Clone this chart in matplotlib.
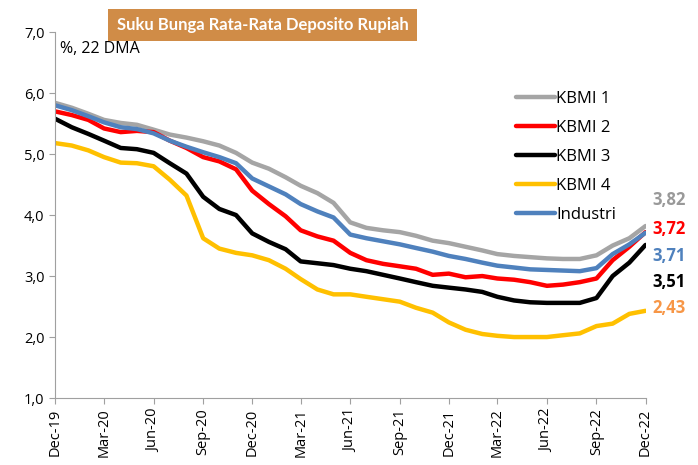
import numpy as np
import pandas as pd
import matplotlib
matplotlib.use("Agg")
import matplotlib.pyplot as plt
import matplotlib.dates as mdates

plt.rcParams['font.family'] = ['Open Sans', 'DejaVu Sans']

# monthly readings, Dec-19 .. Dec-22 (22-day moving average, %)
dates = pd.date_range('2019-12-01', periods=37, freq='MS')

kbmi1 = [5.84, 5.76, 5.66, 5.56, 5.51, 5.48, 5.40, 5.32, 5.27, 5.21, 5.14, 5.02,
         4.86, 4.76, 4.62, 4.48, 4.36, 4.20, 3.88, 3.79, 3.75, 3.72, 3.66, 3.58,
         3.54, 3.48, 3.42, 3.36, 3.33, 3.31, 3.29, 3.28, 3.28, 3.34, 3.50, 3.62, 3.82]
kbmi2 = [5.70, 5.64, 5.56, 5.42, 5.36, 5.38, 5.36, 5.22, 5.10, 4.95, 4.88, 4.75,
         4.40, 4.18, 3.98, 3.75, 3.65, 3.58, 3.38, 3.26, 3.20, 3.16, 3.12, 3.02,
         3.04, 2.98, 3.00, 2.96, 2.94, 2.90, 2.84, 2.86, 2.90, 2.96, 3.26, 3.48, 3.72]
kbmi3 = [5.58, 5.44, 5.33, 5.22, 5.10, 5.08, 5.02, 4.85, 4.68, 4.30, 4.10, 4.00,
         3.70, 3.56, 3.44, 3.24, 3.21, 3.18, 3.12, 3.08, 3.02, 2.96, 2.90, 2.84,
         2.81, 2.78, 2.74, 2.66, 2.60, 2.57, 2.56, 2.56, 2.56, 2.64, 3.00, 3.22, 3.51]
kbmi4 = [5.18, 5.14, 5.06, 4.95, 4.86, 4.85, 4.80, 4.58, 4.32, 3.62, 3.45, 3.38,
         3.34, 3.26, 3.12, 2.95, 2.78, 2.70, 2.70, 2.66, 2.62, 2.58, 2.48, 2.40,
         2.24, 2.12, 2.05, 2.02, 2.00, 2.00, 2.00, 2.03, 2.06, 2.18, 2.22, 2.38, 2.43]
industri = [5.80, 5.72, 5.62, 5.52, 5.44, 5.41, 5.34, 5.22, 5.12, 5.03, 4.95, 4.85,
            4.60, 4.47, 4.34, 4.18, 4.06, 3.96, 3.68, 3.62, 3.57, 3.52, 3.46, 3.40,
            3.33, 3.28, 3.22, 3.17, 3.14, 3.11, 3.10, 3.09, 3.08, 3.13, 3.36, 3.52, 3.71]

labels = ['KBMI 1', 'KBMI 2', 'KBMI 3', 'KBMI 4', 'Industri']
series = [kbmi1, kbmi2, kbmi3, kbmi4, industri]
colors = ['#A5A5A5', '#FF0000', '#000000', '#FFC000', '#4F81BD']
end_colors = ['#999999', '#FF0000', '#4F81BD', '#000000', '#F79646']
# end labels in the order they are stacked on the right
end_order = [0, 1, 4, 2, 3]
end_offsets = [19, 2, -17, -27, 2]

fig = plt.figure(figsize=(6.98, 4.65), dpi=100)
ax = fig.add_axes([0.0788, 0.144, 0.846, 0.787])

for s, lab, c in zip(series, labels, colors):
    ax.plot(dates, s, color=c, lw=3.2, label=lab, solid_capstyle='round')

for k, idx in enumerate(end_order):
    val = series[idx][-1]
    ax.annotate(f"{val:.2f}".replace('.', ','), xy=(dates[-1], val),
                xytext=(5, end_offsets[k]), textcoords='offset points',
                ha='left', va='center', fontsize=12, fontweight='bold',
                color=end_colors[k], annotation_clip=False)

ax.set_ylim(1, 7)
ax.set_yticks(np.arange(1, 8))
ax.yaxis.set_major_formatter(plt.FuncFormatter(lambda v, p: f"{v:.1f}".replace('.', ',')))
ax.set_xlim(dates[0], dates[-1])
ax.xaxis.set_major_locator(mdates.MonthLocator(bymonth=[3, 6, 9, 12]))
ax.xaxis.set_major_formatter(mdates.DateFormatter('%b-%y'))
plt.setp(ax.get_xticklabels(), rotation=90)
ax.tick_params(axis='both', labelsize=10.5, color='#A0A0A0', length=4, direction='out')

for side in ['top', 'right']:
    ax.spines[side].set_visible(False)
for side in ['left', 'bottom']:
    ax.spines[side].set_color('#A0A0A0')

ax.text(0.008, 0.975, '%, 22 DMA', transform=ax.transAxes, fontsize=11.5, va='top')

ax.legend(loc='upper left', bbox_to_anchor=(0.767, 0.862), frameon=False, borderpad=0,
          fontsize=12, handlelength=2.3, handletextpad=0.1, labelspacing=0.78)

fig.text(0.376, 0.946, 'Suku Bunga Rata-Rata Deposito Rupiah', ha='center', va='center',
         fontsize=12, fontweight='bold', color='white', family=['Lato', 'DejaVu Sans'],
         bbox=dict(boxstyle='square,pad=0.5', fc='#D08C47', ec='none'))

fig.savefig('out.png', dpi=100)
